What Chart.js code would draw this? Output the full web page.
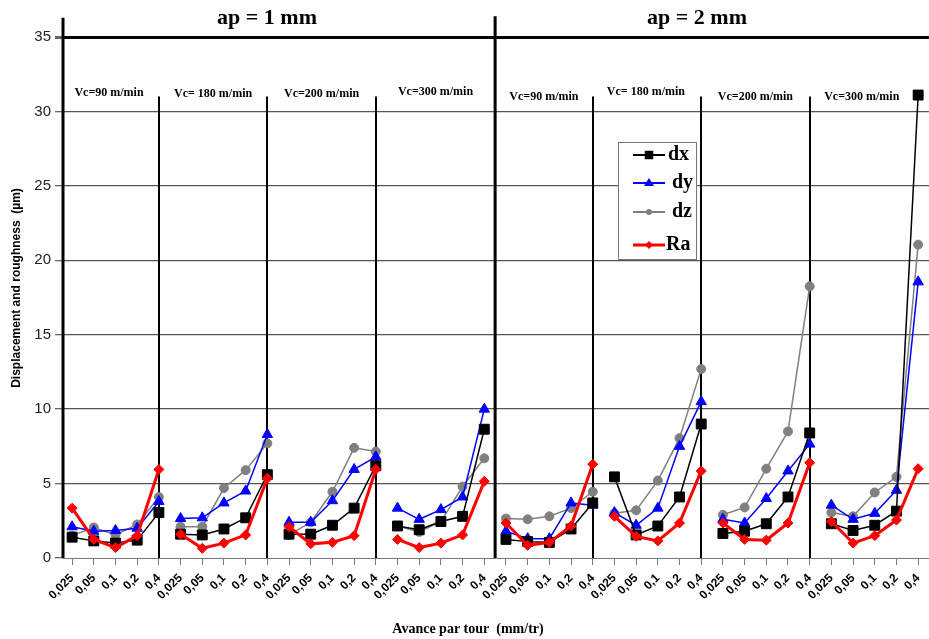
<!DOCTYPE html>
<html><head><meta charset="utf-8">
<script src="https://cdn.jsdelivr.net/npm/chart.js@4.4.1/dist/chart.umd.min.js"></script>
<style>html,body{margin:0;padding:0;background:#fff}#wrap{position:relative;width:929px;height:639px}</style>
</head><body><div id="wrap"><canvas id="c" width="929" height="639"></canvas></div>
<script>
const feeds = ['0,025','0,05','0,1','0,2','0,4'];
const groupLabels = ['Vc=90 m/min','Vc= 180 m/min','Vc=200 m/min','Vc=300 m/min','Vc=90 m/min','Vc= 180 m/min','Vc=200 m/min','Vc=300 m/min'];
const depthLabels = ['ap = 1 mm','ap = 2 mm'];
const yTicks = [0,5,10,15,20,25,30,35];
const dx = [1.4,1.15,1.0,1.2,3.05, 1.6,1.55,1.95,2.7,5.6, 1.6,1.6,2.2,3.35,6.2, 2.15,1.9,2.45,2.8,8.65,
            1.25,1.1,1.05,1.95,3.7, 5.45,1.55,2.15,4.1,9.0, 1.65,1.8,2.3,4.1,8.4, 2.3,1.85,2.2,3.15,31.1];
const dy = [2.1,1.8,1.85,2.0,3.8, 2.65,2.7,3.7,4.5,8.3, 2.4,2.4,3.85,5.95,6.8, 3.35,2.6,3.25,4.1,10.0,
            1.8,1.3,1.3,3.7,3.55, 3.05,2.2,3.35,7.5,10.5, 2.6,2.35,4.0,5.85,7.65, 3.55,2.6,3.0,4.55,18.55];
const dz = [1.5,2.05,1.55,2.25,4.1, 2.1,2.1,4.7,5.9,7.7, 1.55,2.4,4.45,7.4,7.15, 2.15,1.75,2.45,4.8,6.7,
            2.65,2.6,2.8,3.35,4.45, 3.0,3.2,5.2,8.05,12.7, 2.9,3.4,6.0,8.5,18.25, 3.05,2.8,4.4,5.45,21.05];
const Ra = [3.35,1.25,0.7,1.5,5.95, 1.6,0.65,1.0,1.55,5.35, 2.1,0.95,1.05,1.5,5.95, 1.25,0.7,1.0,1.55,5.15,
            2.35,0.85,1.05,2.15,6.3, 2.8,1.45,1.15,2.35,5.85, 2.35,1.25,1.2,2.35,6.4, 2.45,1.0,1.5,2.55,6.0];

const SERIF = '"Liberation Serif", "Times New Roman", serif';
const SANS = '"Liberation Sans", Arial, sans-serif';
const toPts = arr => arr.map((v,i)=>({x:i,y:v}));
function mk(label, arr, color, style, radius, width, order){
  return {label, data: toPts(arr), borderColor: color, backgroundColor: color,
    pointStyle: style, pointRadius: radius, pointHoverRadius: radius, pointBorderWidth: 1,
    pointBorderColor: color, pointBackgroundColor: color,
    borderWidth: width, tension: 0, order, clip: 10,
    segment: {borderColor: ctx => (ctx.p0DataIndex % 5 === 4) ? 'rgba(0,0,0,0)' : color}};
}
function drawMarker(ctx, style, x, y, r, color){
  ctx.save(); ctx.fillStyle = color; ctx.strokeStyle = color; ctx.beginPath();
  if (style==='rect'){ const s=r*Math.SQRT1_2; ctx.rect(x-s,y-s,2*s,2*s); }
  else if (style==='triangle'){ ctx.moveTo(x, y-r); ctx.lineTo(x+r, y+r*0.6); ctx.lineTo(x-r, y+r*0.6); ctx.closePath(); }
  else if (style==='circle'){ ctx.arc(x,y,r,0,Math.PI*2); }
  else { ctx.moveTo(x,y-r); ctx.lineTo(x+r,y); ctx.lineTo(x,y+r); ctx.lineTo(x-r,y); ctx.closePath(); }
  ctx.fill(); ctx.restore();
}
const deco = {
  id:'deco',
  beforeDatasetsDraw(chart){
    const {ctx, scales:{x,y}} = chart;
    ctx.save();
    ctx.strokeStyle='#000';
    [4,9,14,24,29,34].forEach(i=>{
      ctx.lineWidth=2; const px=Math.round(x.getPixelForValue(i));
      ctx.beginPath(); ctx.moveTo(px, y.getPixelForValue(31)); ctx.lineTo(px, y.getPixelForValue(0)); ctx.stroke();
    });
    ctx.lineWidth=3; let px=x.getPixelForValue(19.5);
    ctx.beginPath(); ctx.moveTo(px, y.getPixelForValue(36.4)); ctx.lineTo(px, y.getPixelForValue(0)); ctx.stroke();
    px = chart.chartArea.left;
    ctx.beginPath(); ctx.moveTo(px, y.getPixelForValue(36.3)); ctx.lineTo(px, y.getPixelForValue(0)); ctx.stroke();
    ctx.restore();
  },
  afterDraw(chart){
    const {ctx, scales:{x,y}} = chart;
    ctx.save();
    ctx.fillStyle='#000'; ctx.textAlign='center'; ctx.textBaseline='middle';
    ctx.font='bold 22px '+SERIF;
    ctx.fillText(depthLabels[0], 267, 18);
    ctx.fillText(depthLabels[1], 697, 18);
    ctx.font='bold 12px '+SERIF;
    const gc=[1.7,6.5,11.5,16.75,21.75,26.45,31.5,36.4];
    const gy=[93,94,94,92,97,92,97,97];
    groupLabels.forEach((t,i)=>ctx.fillText(t, x.getPixelForValue(gc[i]), gy[i]));
    ctx.font='bold 14px '+SERIF;
    ctx.fillText('Avance par tour  (mm/tr)', 468, 629);
    ctx.save(); ctx.translate(17, 288); ctx.rotate(-Math.PI/2);
    ctx.font='bold 12px '+SANS; ctx.fillText('Displacement and roughness  (µm)', 0, 0); ctx.restore();
    ctx.fillStyle='#fff'; ctx.fillRect(618,142,79,118);
    ctx.strokeStyle='#777'; ctx.lineWidth=1; ctx.strokeRect(618.5,142.5,78,117);
    const items=[['dx','#000','rect',6,2,155,668],['dy','#0000ff','triangle',5,2,183,672],['dz','#808080','circle',3,2,212,672],['Ra','#ff0000','rectRot',4,3,245,666]];
    items.forEach(([t,c,s,r,w,yy,tx])=>{
      ctx.strokeStyle=c; ctx.lineWidth=w; ctx.beginPath(); ctx.moveTo(633,yy); ctx.lineTo(665,yy); ctx.stroke();
      drawMarker(ctx,s,649,yy,r,c);
      ctx.fillStyle='#000'; ctx.textAlign='left'; ctx.font='bold 20px '+SERIF; ctx.fillText(t,tx,yy);
    });
    ctx.restore();
  }
};
new Chart(document.getElementById('c'), {
  type:'line',
  data:{datasets:[
    mk('dx', dx, '#000000','rect',7,1.5,1),
    mk('dy', dy, '#0000ff','triangle',6,1.5,2),
    mk('dz', dz, '#808080','circle',4.5,1.5,3),
    mk('Ra', Ra, '#ff0000','rectRot',5,3,0)
  ]},
  options:{
    responsive:false, animation:false, devicePixelRatio:1,
    layout:{autoPadding:false, padding:{top:37,right:0,left:0,bottom:0}},
    plugins:{legend:{display:false}, tooltip:{enabled:false}},
    scales:{
      x:{type:'linear', min:-0.42, max:39.5,
        afterBuildTicks: s => { s.ticks = Array.from({length:40},(_,i)=>({value:i})); },
        afterFit: s => { s.height = 81; s.paddingRight = 0; s.paddingLeft = 0; },
        grid:{drawOnChartArea:false, drawTicks:true, tickLength:7, color:'#777'},
        border:{display:true, color:'#777', width:1},
        ticks:{autoSkip:false, maxRotation:45, minRotation:45, padding:6, color:'#000',
          font:{family:SANS, weight:'bold', size:12},
          callback: v => feeds[v%5]}
      },
      y:{min:0, max:35,
        afterBuildTicks: s => { s.ticks = yTicks.map(v=>({value:v})); },
        afterFit: s => { s.width = 63; s.paddingTop = 0; s.paddingBottom = 0; },
        border:{display:false},
        grid:{color: c => c.tick && c.tick.value===35 ? '#000' : (c.tick && c.tick.value===0 ? 'rgba(0,0,0,0)' : '#555'),
              lineWidth: c => c.tick && c.tick.value===35 ? 3 : 1.3, tickLength:8, tickColor:'#666'},
        ticks:{color:'#222', padding:4, font:{family:SANS, size:15}}
      }
    }
  },
  plugins:[deco]
});
</script></body></html>
